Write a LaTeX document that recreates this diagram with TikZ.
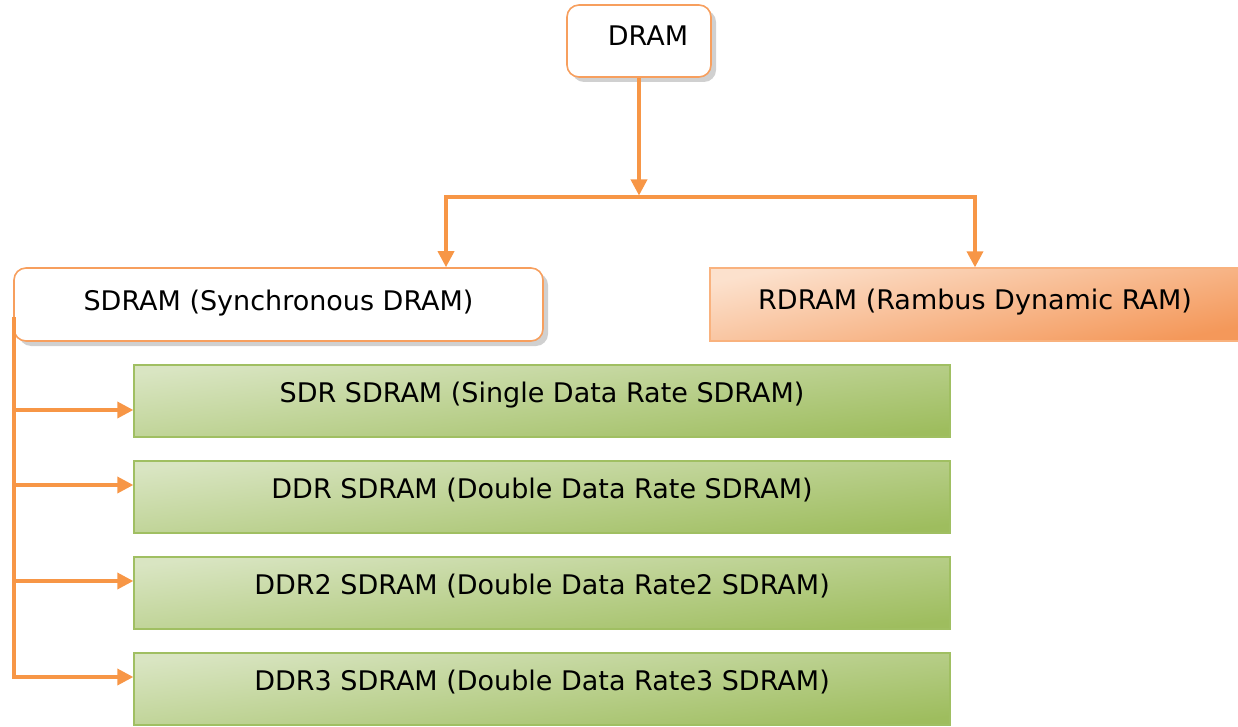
\documentclass[tikz,border=0pt]{standalone}
\usepackage{fontspec}
\setmainfont{DejaVu Sans}
\usetikzlibrary{arrows.meta,shadows}
\definecolor{org}{HTML}{F79646}
\definecolor{orgline}{HTML}{F79F5E}
\definecolor{orglight}{HTML}{FCE1CD}
\definecolor{orgdark}{HTML}{F4985A}
\definecolor{grnlight}{HTML}{D9E5C2}
\definecolor{grndark}{HTML}{9EBD5E}
\definecolor{grnline}{HTML}{A0BF62}
\definecolor{shadowgray}{HTML}{D0D0D0}
\begin{document}
\begin{tikzpicture}[x=1pt,y=-1pt,
  font=\fontsize{27}{31}\selectfont,
  conn/.style={draw=org, line width=3.5pt},
  arr/.style={conn, -{Triangle[length=16pt,width=16pt]}},
  rbox/.style={draw=orgline, line width=1.6pt, rounded corners=12pt, fill=white, inner sep=0pt,
    drop shadow={shadow xshift=5pt, shadow yshift=-5pt, fill=shadowgray, opacity=1}},
  obox/.style={draw=orgline!80, line width=1.3pt, inner sep=0pt,
    top color=orglight, bottom color=orgdark, shading angle=12,
    minimum width=530pt, minimum height=73pt, text height=19pt, text depth=9pt},
  gbox/.style={draw=grnline, line width=1.3pt, inner sep=0pt,
    top color=grnlight, bottom color=grndark, shading angle=7,
    minimum width=816pt, minimum height=72pt, text height=19pt, text depth=17pt},
]
\useasboundingbox (0,0) rectangle (1238,727);

% boxes
\node[rbox, minimum width=144pt, minimum height=72pt, text height=19pt, text depth=10pt]
  (dram) at (639,41) {\hspace*{18pt}DRAM};
\node[rbox, minimum width=529pt, minimum height=73pt, text height=19pt, text depth=7pt]
  (sdram) at (278.5,304.5) {SDRAM (Synchronous DRAM)};
\node[obox] (rdram) at (975,304.5) {RDRAM (Rambus Dynamic RAM)};

\node[gbox] (g1) at (542,401) {SDR SDRAM (Single Data Rate SDRAM)};
\node[gbox] (g2) at (542,497) {DDR SDRAM (Double Data Rate SDRAM)};
\node[gbox] (g3) at (542,593) {DDR2 SDRAM (Double Data Rate2 SDRAM)};
\node[gbox] (g4) at (542,689) {DDR3 SDRAM (Double Data Rate3 SDRAM)};

% junction coordinates
\coordinate (jl) at (446,197);
\coordinate (jr) at (975,197);
\coordinate (sp) at (14,317);
\coordinate (a1) at (14,410);
\coordinate (a2) at (14,485);
\coordinate (a3) at (14,581);
\coordinate (a4) at (14,677);

% connectors
\draw[arr, shorten >=1.5pt] (dram.south) -- (dram.south |- jl);
\draw[arr] (jr) -- (jl) -- (jl |- sdram.north);
\draw[arr] (jl) -- (jr) -- (jr |- rdram.north);
\draw[arr] (sp) -- (a4) -- (a4 -| g4.west);
\draw[arr] (a1) -- (a1 -| g1.west);
\draw[arr] (a2) -- (a2 -| g2.west);
\draw[arr] (a3) -- (a3 -| g3.west);
\end{tikzpicture}
\end{document}
